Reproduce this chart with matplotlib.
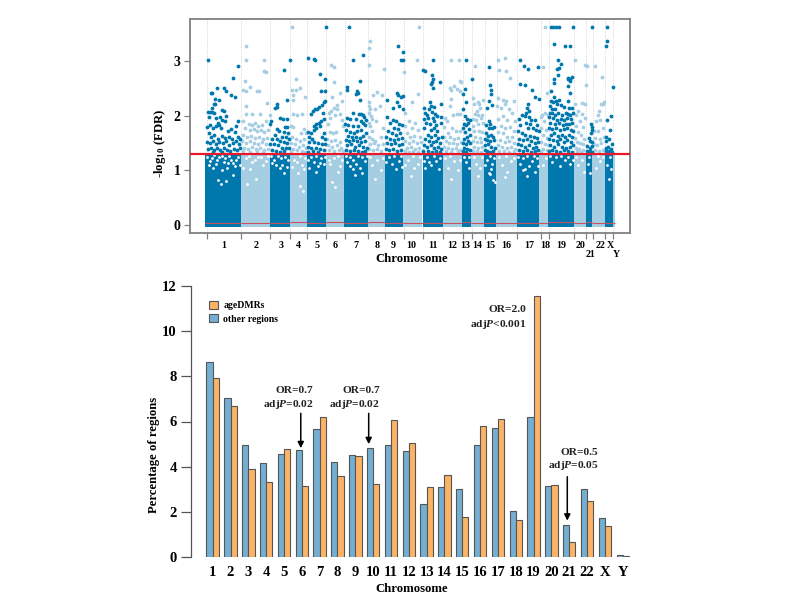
import numpy as np
import matplotlib
matplotlib.use('Agg')
import matplotlib.pyplot as plt

plt.rcParams['font.family'] = ['Liberation Serif', 'DejaVu Serif']
plt.rcParams['font.weight'] = 'bold'
plt.rcParams['mathtext.fontset'] = 'custom'
plt.rcParams['mathtext.rm'] = 'Liberation Serif:bold'
plt.rcParams['mathtext.bf'] = 'Liberation Serif:bold'
plt.rcParams['mathtext.it'] = 'Liberation Serif:italic:bold'
plt.rcParams['mathtext.bfit'] = 'Liberation Serif:italic:bold'

# manhattan panel: chromosome edges on the genome axis
chrom_names = ['1','2','3','4','5','6','7','8','9','10','11','12','13','14','15','16','17','18','19','20','21','22','X','Y']
chrom_edges = [205.5,240.7,269.5,290,306.7,326,344,368,385,403.3,422.5,442.7,462,471.3,484,496,516.7,539.3,548.3,574,586,592.3,604.7,612.7,614.5]
tick_edges = [206.7,241.3,270.3,290.3,307.3,326,344.7,368.3,385,404,423.3,443.3,462.7,472,485,497,517.3,540.7,549,574,586,592.7,605,612.7]
label_pos = [224,256,280.7,298.7,317,335.3,356.3,377,393.7,411.7,433.3,452,465,477,490,506,529,545.3,561.7,581,591,600,610,616.3]
low_fdr_line = [.03,.03,.03,.05,.03,.05,.03,.05,.03,.03,.03,.03,.05,.03,.03,.03,.03,.03,.05,.03,.05,.03,.03,.03]

chr1 = [(207.7,3.02),(238,2.91),(233.3,2.70),(231.3,2.39),(234.7,2.34),(217.3,2.52),(224,2.52),(211,2.42),(212.3,2.42),(225.7,2.45),
        (215.3,2.31),(219.3,2.29),(213.7,2.22),(215.3,2.22),(212,2.15),(208,2.07),(210,2.07),(212,2.08),(214,2.05),(222,2.11),(224,2.10),(209,1.98),
        (216,1.96),(220,1.98),(226,2.00),(218,1.88),(222,1.92),(225,1.90),(238.5,1.90),(207,1.80),(210,1.84),(213,1.78),(216,1.82),(219,1.84),
        (221,1.78),(228,1.72),(231,1.76),(236,1.82),(235,1.70),(209,1.68),(211,1.62),(214,1.66),(218,1.58),(222,1.64),(225,1.60),(229,1.62),(232,1.58),
        (238,1.62),(240,1.58),(207,1.52),(210,1.50),(213,1.54),(216,1.48),(219,1.52),(223,1.50),(226,1.54),(229,1.46),(233,1.50),(236,1.54),(239,1.48),
        (208,1.40),(211,1.42),(214,1.38),(217,1.42),(220,1.38),(224,1.42),(227,1.38),(230,1.36),(234,1.40),(237,1.38),(240,1.42),(213,1.34),(222,1.34)]
chr3 = [(290,3.02),(284,2.85),(287,2.29),(277,2.22),(275,2.15),(277,2.16),(280.3,1.96),(283,1.94),(287,1.94),(271,1.90),(270,1.85),(287,1.80),(285,1.80),
        (277,1.76),(279,1.72),(284,1.70),(288,1.68),(275,1.66),(282,1.62),(286,1.62),(289,1.58),(272,1.58),(277,1.58),(280,1.54),(284,1.52),(287,1.50),
        (270,1.48),(274,1.48),(278,1.46),(282,1.42),(286,1.42),(289,1.42),(272,1.38),(276,1.36),(280,1.34),(284,1.36)]
chr5 = [(326,3.63),(308.3,3.07),(314,3.04),(315,3.02),(320,2.77),(325,2.67),(321,2.45),(325,2.45),(325,2.28),(324,2.25),(322,2.20),(315,2.13),(317,2.13),(319,2.16),
        (310.5,2.03),(323,2.05),(313,2.10),(324,1.95),(321,1.90),(319,1.88),(316,1.86),(314,1.82),(320,1.82),(316,1.78),(314,1.74),(308,1.70),(311,1.68),
        (324,1.68),(309,1.62),(322,1.62),(325,1.58),(312,1.58),(309,1.52),(314,1.52),(318,1.50),(322,1.48),(325,1.48),(307.5,1.44),(311,1.42),(316,1.42),(320,1.40),(324,1.38),(313,1.36),(308,1.34),(318,1.34)]
chr7 = [(349,3.63),(352.7,3.02),(363,3.11),(359.7,2.64),(359.7,2.29),(346.5,2.53),(347,2.48),(357,2.45),(358,2.42),(356,2.40),(345,1.86),(353,2.05),
        (359,2.03),(361,2.03),(363,2.02),(364,1.98),(347,1.96),(350,1.94),(356,1.94),(366,1.92),(361,1.90),(363,1.88),(348,1.84),(353,1.82),(358,1.82),(365,1.84),
        (346,1.74),(350,1.70),(354,1.68),(357,1.72),(361,1.74),(366,1.68),(348,1.64),(352,1.62),(356,1.62),(360,1.60),(363,1.64),(345.5,1.56),(349,1.54),(353,1.56),(357,1.54),(361,1.52),(365,1.54),
        (347,1.46),(351,1.48),(355,1.44),(359,1.46),(363,1.44),(367,1.42),(346,1.38),(350,1.36),(354,1.38),(358,1.36),(362,1.34),(365,1.36)]
chr9 = [(397.7,3.29),(403.3,3.18),(401,3.02),(403,3.02),(387,2.30),(397,2.42),(398,2.38),(401,2.34),(403,2.37),(397,2.25),(393,2.14),(399,2.18),(403,2.12),(386.5,1.99),
        (393,1.92),(396,1.90),(390,1.88),(399,1.86),(402,1.84),(394,1.78),(398,1.76),(388,1.72),(392,1.68),(396,1.66),(400,1.68),(386,1.62),(390,1.58),(394,1.56),(398,1.58),(402,1.60),
        (387,1.50),(391,1.48),(395,1.50),(399,1.46),(402,1.48),(386,1.40),(389,1.38),(393,1.40),(397,1.36),(401,1.38)]
chr11 = [(433.3,3.02),(423,2.85),(425,2.82),(431.7,2.75),(432.5,2.68),(432,2.62),(430.5,2.58),(432.5,2.52),(440,2.62),(430,2.25),(441,2.22),(424,2.15),(429,2.12),(431,2.18),(434,2.16),
        (425,2.05),(427,2.02),(432,2.08),(435,2.04),(437,2.00),(424,1.95),(428,1.96),(433,1.96),(441,1.98),(426,1.88),(430,1.86),(434,1.90),(436,1.84),(441,1.88),(424,1.78),(431,1.74),(434,1.78),(437,1.72),
        (442,1.62),(428,1.66),(431,1.62),(435,1.66),(438,1.60),(425,1.58),(429,1.54),(433,1.52),(436,1.54),(440,1.50),(424,1.46),(427,1.44),(431,1.46),(434,1.42),(438,1.44),(441,1.40),(423,1.36),(428,1.36),(432,1.34),(436,1.36),(440,1.34)]
chr13 = [(466,3.02),(471.5,2.67),(465,2.50),(463,2.40),(465.5,2.25),(463,2.12),(465,2.00),(467,1.95),(468,1.88),(464,1.86),(466,1.84),(470,1.92),(463,1.78),(469,1.76),(465,1.70),(467,1.62),(470,1.65),(464,1.58),(468,1.54),
         (463,1.50),(466,1.48),(470,1.50),(464,1.42),(467,1.40),(470,1.38),(463,1.36),(466,1.34)]
chr15 = [(489,2.89),(490,2.57),(490.5,2.48),(491,2.40),(488.5,2.27),(487,2.15),(492,2.20),(489,1.90),(490,1.86),(486,1.84),(489,1.78),(494,1.80),(492,1.78),(486,1.68),(488,1.64),(491,1.66),(493,1.62),(485,1.58),(487,1.56),(490,1.54),(494,1.56),
         (485,1.46),(488,1.48),(491,1.44),(495,1.42),(484.5,1.38),(487,1.36),(490,1.34),(493,1.36)]
chr17 = [(519.7,3.02),(524,2.91),(528.3,2.87),(538,2.90),(520,2.58),(525,2.57),(531.7,2.47),(535,2.35),(539,2.31),(528,2.22),(527,2.14),(529,2.10),(526,2.05),(522,2.02),(525,2.00),(529,1.98),(531,1.92),(535,1.92),(519,1.95),
         (526,1.88),(530,1.86),(537,1.84),(520,1.84),(528,1.78),(533,1.78),(536,1.74),(539,1.72),(518,1.72),(522,1.68),(525,1.66),(530,1.64),(534,1.62),(537,1.60),(519,1.58),(523,1.56),(527,1.58),(531,1.54),(535,1.50),(538,1.52),
         (518,1.48),(521,1.46),(525,1.44),(529,1.46),(533,1.42),(536,1.44),(519,1.38),(523,1.36),(527,1.38),(531,1.34),(535,1.36),(538,1.38)]
chr19 = [(551,3.63),(553,3.63),(556,3.63),(559,3.63),(573,3.63),(554.3,3.32),(564.7,3.28),(569.7,3.29),(558,3.02),(561,2.95),(556.7,2.87),(559,2.88),(558,2.75),(567.5,2.70),(570,2.68),(572,2.72),(568,2.67),(570,2.65),
         (553.7,2.67),(553.7,2.60),(568,2.55),(551,2.45),(570,2.42),(554,2.35),(559,2.30),(556,2.28),(568,2.28),(551,2.28),(553,2.25),(557,2.22),(561,2.20),(564,2.16),(550,2.18),(552,2.12),(555,2.12),(569,2.15),(572,2.14),
         (550,2.06),(552,2.05),(555,2.02),(558,2.05),(562,2.02),(566,2.06),(568,2.04),(570,2.02),(573,2.06),(549,1.98),(553,1.96),(557,1.92),(561,1.94),(564,1.92),(567,1.96),(571,1.94),(550,1.88),(555,1.86),(559,1.88),(563,1.84),(566,1.86),(569,1.86),(572,1.88),
         (549,1.78),(552,1.76),(556,1.78),(560,1.74),(564,1.76),(567,1.78),(571,1.74),(573,1.72),(551,1.66),(554,1.68),(558,1.64),(562,1.66),(565,1.62),(569,1.66),(572,1.62),(549,1.58),(553,1.56),(557,1.54),(560,1.58),(564,1.52),(567,1.56),(571,1.52),
         (550,1.46),(554,1.44),(558,1.48),(562,1.44),(566,1.42),(570,1.44),(573,1.46),(549,1.36),(552,1.38),(556,1.36),(560,1.34),(564,1.38),(568,1.36),(572,1.34)]
chr21 = [(591.7,3.63),(591,1.85),(592,1.80),(591.5,1.75),(591,1.68),(588.5,1.60),(590,1.55),(591.5,1.52),(587,1.45),(590,1.42),(592,1.45),(587,1.36),(589.5,1.35),(591.5,1.34)]
chrX = [(606.7,3.63),(606.7,3.37),(606,3.28),(612.5,2.53),(611,2.00),(607,1.93),(609.7,1.75),(605.5,1.62),(606,1.55),(609,1.58),(612,1.48),(605.5,1.42),(608,1.44),(611,1.40),(606,1.36),(609,1.35),(612,1.34)]
dark_groups = [chr1, chr3, chr5, chr7, chr9, chr11, chr13, chr15, chr17, chr19, chr21, chrX]

chr2 = [(246,3.28),(246,3.02),(264.3,3.02),(263.7,2.83),(266.3,2.80),(245.3,2.64),(249.7,2.53),(243,2.48),(246.3,2.45),(256.7,2.45),(258.7,2.45),(246.3,2.18),(267.3,2.23),(246,2.03),(251.7,2.03),(260,2.04),(270,2.02),
        (243,1.90),(249,1.86),(252,1.84),(255,1.88),(258,1.82),(262,1.84),(266,1.90),(245,1.78),(250,1.74),(254,1.76),(257,1.72),(261,1.74),(264,1.70),(268,1.74),(243,1.66),(247,1.62),(251,1.64),(255,1.60),(259,1.62),(263,1.58),(267,1.60),
        (242,1.54),(246,1.50),(250,1.54),(254,1.50),(258,1.48),(262,1.52),(266,1.48),(244,1.42),(248,1.40),(252,1.44),(256,1.40),(260,1.42),(264,1.38),(268,1.40),(243,1.35),(250,1.34),(257,1.35),(263,1.34)]
chr4 = [(291.7,3.63),(296,2.67),(291.5,2.47),(296,2.48),(300,2.52),(293,2.38),(305,2.35),(293,2.29),(293,2.03),(297,2.02),(302,2.03),(291,1.82),(293,1.80),(304,1.76),(306,1.68),(301,1.68),(292,1.62),(296,1.58),(300,1.54),(304,1.58),(291,1.50),(295,1.48),(299,1.44),(303,1.46),(306,1.42),(293,1.40),(297,1.38),(302,1.36),(291,1.35),(305,1.34)]
chr6 = [(331,2.93),(333.7,2.89),(334,2.63),(331.7,2.35),(340,2.43),(337,2.20),(342,2.28),(331,2.10),(334,2.14),(337,2.12),(329,2.05),(340,2.03),(335,2.02),(330,1.96),(342,1.92),(328,1.85),(343,1.82),
        (330,1.70),(333,1.68),(336,1.70),(327,1.58),(331,1.54),(335,1.56),(340,1.52),(328,1.46),(332,1.44),(337,1.46),(341,1.42),(329,1.38),(334,1.36),(339,1.38),(343,1.35)]
chr8 = [(369.7,3.38),(369,3.25),(369,2.93),(383.7,2.86),(377,2.44),(382,2.38),(373,2.38),(368.5,2.25),(369,2.18),(370,2.12),(375,2.12),(380,2.18),(369,2.05),(371,2.00),(372,1.95),(369,1.88),(376,1.90),(370,1.82),(383,1.78),
        (372,1.72),(369,1.62),(372,1.58),(375,1.55),(381,1.62),(370,1.48),(374,1.50),(378,1.46),(383,1.48),(369,1.40),(373,1.38),(377,1.40),(381,1.36)]
chr10 = [(419,3.63),(417,3.02),(404,2.80),(418,2.40),(411.5,2.26),(405,2.05),(409,1.90),(415,1.88),(405,1.82),(412,1.78),(418,1.75),(407,1.68),(410,1.62),(414,1.64),(420,1.62),(405,1.55),(409,1.50),(413,1.54),(417,1.50),(421,1.52),(407,1.42),(411,1.44),(415,1.40),(419,1.42),(405,1.36),(409,1.34),(413,1.36),(418,1.34)]
chr12 = [(451,3.02),(458.5,3.02),(460,2.65),(461,2.63),(454,2.55),(450,2.52),(457,2.50),(451,2.48),(460,2.45),(451,2.32),(450,2.18),(453,2.02),(457,2.03),(460,2.03),(445,1.96),(447,1.90),(444,1.80),(452,1.78),(456,1.72),(448,1.68),(460,1.72),
         (444,1.62),(450,1.62),(454,1.58),(458,1.60),(446,1.54),(449,1.50),(453,1.50),(457,1.48),(461,1.52),(444,1.44),(448,1.42),(452,1.40),(456,1.42),(460,1.38),(446,1.35),(451,1.34),(458,1.35)]
chr14 = [(475.3,2.91),(473,2.33),(478,2.25),(474,2.22),(479,2.22),(483,2.30),(477,2.10),(480,2.15),(475,2.03),(478,2.02),(482,2.02),(473,1.95),(476,1.92),(481,1.96),(473,1.82),(478,1.85),(483,1.88),(474,1.72),(479,1.72),(482,1.70),
         (475,1.62),(480,1.60),(472.5,1.54),(477,1.52),(481,1.52),(474,1.44),(478,1.42),(482,1.44),(473,1.36),(477,1.35),(481,1.34)]
chr16 = [(505.3,3.06),(498.3,3.02),(499,2.85),(506.3,2.82),(510,2.70),(498,2.33),(503,2.30),(506,2.28),(513.7,2.27),(497,2.18),(501,2.14),(505,2.22),(509,2.12),(512,2.05),(503,2.00),(498,1.95),(507,1.92),(515,1.90),(501,1.82),(505,1.78),(510,1.80),(514,1.72),
         (498,1.70),(503,1.68),(507,1.62),(512,1.62),(500,1.56),(505,1.52),(509,1.54),(514,1.50),(497.5,1.46),(502,1.44),(507,1.42),(511,1.44),(515,1.40),(499,1.36),(504,1.35),(509,1.34),(514,1.36)]
chr18 = [(544.7,3.63),(543,2.90),(546.7,2.43),(545,2.05),(542,2.02),(548,2.02),(540.5,1.98),(544,1.90),(541,1.78),(546,1.75),(543,1.65),(547,1.60),(541,1.52),(545,1.48),(548,1.46),(543,1.40),(547,1.38),(541,1.35)]
chr20 = [(574.7,3.02),(584.7,2.93),(586.7,2.91),(586,2.57),(585,2.22),(582,2.23),(575,2.22),(578,2.10),(582,2.04),(576,2.02),(585,1.96),(580,1.90),(576,1.82),(583,1.80),(578,1.70),(581,1.66),(575,1.60),(584,1.58),(577,1.52),(580,1.50),(583,1.48),(575.5,1.42),(579,1.40),(583,1.38),(577,1.35),(581,1.34)]
chr22 = [(595.3,2.91),(602.3,2.72),(604,2.25),(601,2.22),(599,2.10),(597.5,2.02),(603,2.22),(596,1.90),(600,1.92),(594,1.72),(598,1.72),(603,1.78),(595,1.60),(600,1.58),(604,1.62),(594,1.48),(597,1.46),(601,1.50),(595,1.38),(599,1.36),(603,1.38)]
light_groups = [chr2, chr4, chr6, chr8, chr10, chr12, chr14, chr16, chr18, chr20, chr22]

# holes in the dense part below the threshold
gaps = [(212,1.22),(216,1.12),(219,1.25),(224,1.15),(227,1.05),(231,1.20),(235,1.08),(238,1.24),(222,1.00),(233,0.92),(221,0.76),(218,0.82),(226,0.80),(209,1.10),(214,1.28),
        (207,1.24),(210,1.17),(217,1.20),(222,1.27),(229,1.26),(233,1.13),(236,1.19),(240,1.10),(225,1.22),(228,1.14),(213,1.04),
        (246,1.22),(252,1.15),(258,1.24),(263,1.10),(250,1.02),(256,0.85),(266,1.18),(243,1.05),(247,0.75),(249,1.26),(255,1.20),(261,1.25),(268,1.26),
        (274,1.20),(276,1.10),(280,1.05),(282,1.10),(285,1.24),(287,1.06),(278,1.27),(284,0.95),(272,1.14),(271,1.26),(281,1.22),(288,1.20),
        (294,1.20),(298,0.95),(302,1.10),(297,1.15),(304,1.02),(292,1.07),(300,0.72),(303,0.62),(300,1.26),(305,1.22),
        (311,1.24),(314,1.15),(318,1.08),(321,1.22),(316,0.98),(324,1.12),(309,1.05),(308,1.20),(316,1.27),(320,1.14),(325,1.25),
        (330,1.12),(334,1.22),(338,0.98),(332,0.78),(340,1.08),(335,0.70),(329,1.20),(338,1.26),(342,1.20),
        (347,1.15),(350,1.24),(353,1.02),(356,1.12),(360,1.05),(362,0.96),(365,1.18),(358,1.26),(355,0.92),(345.5,1.26),(353,1.20),(362,1.24),(367,1.27),(350,1.08),
        (372,1.10),(377,1.20),(381,1.00),(375,0.85),(370,1.24),(383,1.22),
        (389,1.24),(392,1.12),(396,1.02),(399,1.18),(402,1.07),(386,1.16),(394,1.26),(401,1.26),
        (408,1.20),(414,1.05),(418,1.12),(411,0.90),(405,1.10),(413,1.26),(420,1.24),
        (427,1.24),(431,1.10),(436,1.18),(439,1.02),(425,1.05),(424,1.18),(434,1.27),(440,1.22),(429,1.16),
        (448,1.05),(454,1.18),(458,1.00),(451,0.85),(445,1.22),(450,1.26),(460,1.20),
        (466,1.15),(469,1.05),(464,1.25),(469,1.24),
        (476,1.12),(480,1.05),(478,0.90),(474,1.25),(482,1.24),
        (487,1.20),(489,0.95),(490,0.93),(492,1.12),(493,0.82),(495,0.78),(491,1.02),(485,1.10),(490,1.26),(494,1.22),
        (502,1.10),(507,0.98),(511,1.18),(505,0.88),(499,1.24),(506,1.26),(514,1.22),
        (520,1.12),(523,1.22),(525,1.02),(527,0.90),(529,1.08),(532,1.18),(535,0.98),(537,1.22),(518,1.24),(527,1.26),(534,1.27),(538,1.08),(523,1.00),
        (543,1.10),(546,1.22),(552,1.15),(556,1.25),(560,1.08),(565,1.20),(570,1.12),(550,1.26),(561,1.26),(568,1.25),(573,1.20),
        (578,1.10),(582,1.20),(584,0.98),(588,1.12),(590,0.95),(596,1.05),(600,1.18),(607,1.10),(609,0.85),(611,1.02),(576,1.24),(589,1.25),(598,1.26),(603,1.24),(610,1.24)]

# bar panel
bar_names = chrom_names
other_regions = [8.65,7.03,4.97,4.18,4.58,4.72,5.66,4.22,4.54,4.84,4.97,4.69,2.35,3.09,3.0,4.96,5.7,2.06,6.18,3.13,1.43,3.0,1.72,0.12]
age_dmrs = [7.92,6.7,3.9,3.32,4.8,3.14,6.2,3.58,4.47,3.25,6.07,5.03,3.12,3.63,1.78,5.78,6.09,1.66,11.53,3.18,0.68,2.47,1.4,0.06]

dark = '#0078AE'
light = '#A6CEE3'
gray = '#808080'

fig = plt.figure(figsize=(8, 6), dpi=100)

def px_axes(left, right, top, bottom):
    return fig.add_axes([left/800, 1-bottom/600, (right-left)/800, (bottom-top)/600])

ax = px_axes(190.3, 629.5, 19.3, 233)
ax.set_xlim(190.3, 629.5)
ax.set_ylim(-0.147, 3.774)

for i in range(len(chrom_names)):
    c = dark if i % 2 == 0 else light
    ax.bar(chrom_edges[i], 1.33, bottom=-0.03, width=chrom_edges[i+1]-chrom_edges[i], align='edge', color=c, lw=0, zorder=2)

for e in tick_edges:
    ax.axvline(e, color='#c8c8c8', lw=0.6, ls=':', zorder=1)

gap_arr = np.array(gaps)
ax.scatter(gap_arr[:, 0], gap_arr[:, 1], s=4, color='white', lw=0, zorder=3)
dark_arr = np.array(sum(dark_groups, []))
light_arr = np.array(sum(light_groups, []))
ax.scatter(light_arr[:, 0], light_arr[:, 1], s=7.5, color=light, lw=0, zorder=3)
ax.scatter(dark_arr[:, 0], dark_arr[:, 1], s=7.5, color=dark, lw=0, zorder=4)

ax.hlines(low_fdr_line, chrom_edges[:-1], chrom_edges[1:], color='#c8505f', lw=0.8, zorder=5)
ax.axhline(1.31, color='#E8192C', lw=1.6, zorder=6)

for s in ax.spines.values():
    s.set_color(gray)
    s.set_linewidth(1.3)
ax.set_xticks(tick_edges)
ax.set_xticklabels([])
ax.set_yticks([0, 1, 2, 3])
ax.tick_params(axis='both', length=4, width=0.9, color=gray)
ax.tick_params(axis='y', labelsize=10, pad=3)
for name, p in zip(chrom_names, label_pos):
    low = name in ('21', 'Y')
    ax.text(p, -0.55 if low else -0.385, name, ha='center', va='center', fontsize=7.2, clip_on=False)
ax.text(411.5, -0.62, 'Chromosome', ha='center', va='center', fontsize=9.2)
ax.text(160, 1.49, r'-log$_{\mathbf{10}}$ (FDR)', rotation=90, ha='center', va='center', fontsize=9.2)

# bars
ax2 = px_axes(190.7, 632, 285.7, 557.3)
x = np.arange(len(bar_names))
w = 0.348
ax2.bar(x-w/2, other_regions, w, color='#74AFD3', edgecolor='#555555', lw=0.8, label='other regions')
ax2.bar(x+w/2, age_dmrs, w, color='#FDB366', edgecolor='#555555', lw=0.8, label='ageDMRs')
ax2.set_xlim(-1.234, 23.52)
ax2.set_ylim(0, 12)
for s in ('top', 'right', 'bottom'):
    ax2.spines[s].set_visible(False)
ax2.spines['left'].set_color('#555555')
ax2.spines['left'].set_linewidth(0.9)
ax2.spines['left'].set_bounds(0, 12)
ax2.set_xticks(x)
ax2.set_xticklabels(bar_names)
ax2.tick_params(axis='x', length=0, labelsize=10.5, pad=6)
ax2.tick_params(axis='y', length=7, width=0.9, color='#555555', labelsize=10.5, pad=3)
ax2.set_xlabel('Chromosome', fontsize=9.2, fontweight='bold', labelpad=3.5)
ax2.set_ylabel('Percentage of regions', fontsize=9.2, fontweight='bold')
ax2.yaxis.set_label_coords(-0.0696, 0.377)

h, l = ax2.get_legend_handles_labels()
ax2.legend(h[::-1], l[::-1], loc='upper left', bbox_to_anchor=(0.042, 0.945), frameon=False, fontsize=7,
           handlelength=0.93, handleheight=0.9, handletextpad=0.5, labelspacing=0.44, borderpad=0, borderaxespad=0)

notes = [(5.64, 7.35, 'OR=0.7'), (5.64, 6.77, r'adj$\mathbfit{P}$=0.02'),
         (9.38, 7.35, 'OR=0.7'), (9.38, 6.77, r'adj$\mathbfit{P}$=0.02'),
         (17.57, 10.93, 'OR=2.0'), (17.57, 10.3, r'adj$\mathbfit{P}$<0.001'),
         (21.63, 4.61, 'OR=0.5'), (21.63, 4.05, r'adj$\mathbfit{P}$=0.05')]
for nx, ny, txt in notes:
    ax2.text(nx, ny, txt, ha='right', va='center', fontsize=8.2, color='#222222')

arrows = [(4.94, 6.36, 4.82), (8.75, 6.36, 5.0), (19.89, 3.56, 1.62)]
for ax_x, tail, tip in arrows:
    ax2.annotate('', xy=(ax_x, tip), xytext=(ax_x, tail),
                 arrowprops=dict(arrowstyle='-|>', color='black', lw=1.1, mutation_scale=9, shrinkA=0, shrinkB=0))

fig.savefig('out.png', dpi=100)
